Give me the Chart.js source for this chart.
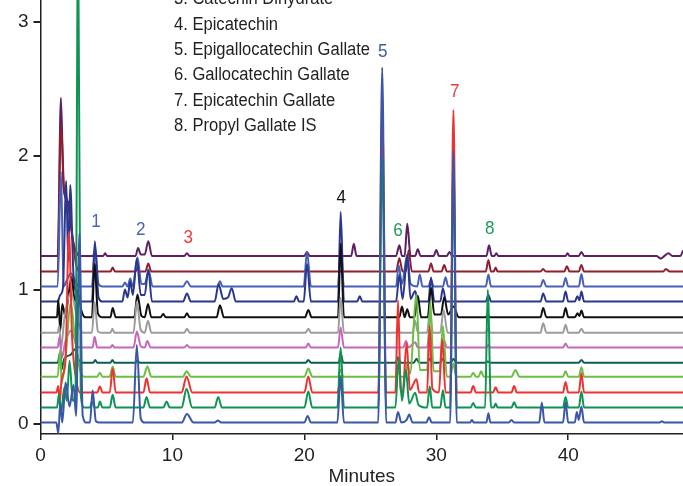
<!DOCTYPE html>
<html>
<head>
<meta charset="utf-8">
<script src="https://cdn.jsdelivr.net/npm/chart.js@4/dist/chart.umd.min.js"></script>
<style>
  html, body { margin: 0; padding: 0; background: #fff; }
  canvas { display: block; }
</style>
</head>
<body>
<canvas id="chrom" width="683" height="486"></canvas>
<script>
// Stacked chromatograms: each trace is [minutes, signal above its own baseline]
const trace1 = [[0,0],[1.2,0],[1.35,-0.08],[1.5,0.15],[1.65,0],[1.9,0.3],[2.2,0.12],[2.5,0.28],[2.7,0.05],[2.95,1.41],[3.2,0.05],[3.5,0],[3.75,0],[3.95,0.24],[4.2,0.01],[4.5,0],[7.0,0],[7.3,0.58],[7.6,0.03],[7.9,0],[10.7,0],[11.1,0.065],[11.6,0],[13.2,0],[13.45,0.015],[13.7,0],[20.0,0],[20.25,0.05],[20.5,0],[22.5,0],[22.75,0.35],[23.0,0],[25.6,0],[25.9,2.65],[26.2,0],[26.9,0],[27.1,0.08],[27.35,0],[27.75,0.02],[27.95,0.06],[28.2,0],[29.25,0],[29.45,0.04],[29.65,0],[31.05,0],[31.3,2.03],[31.55,0],[32.55,0],[32.7,0.02],[32.85,0],[33.8,0],[33.95,0.07],[34.1,0],[35.5,0],[35.7,0.02],[35.9,0],[37.8,0],[38.0,0.15],[38.2,0],[39.6,0],[39.8,0.15],[40.0,0],[40.5,0],[40.65,0.08],[40.8,0.02],[41.0,0.12],[41.2,0],[46.9,0],[47.1,0.01],[47.3,0],[48.7,0]];
const trace2 = [[0,0],[1.25,0],[1.4,0.1],[1.55,-0.05],[1.8,0.15],[2.0,0.05],[2.2,0.35],[2.45,0.05],[2.65,0.1],[2.85,3.6],[3.05,0.1],[3.3,0],[3.75,0],[3.9,0.045],[4.1,0],[4.35,0],[4.5,0.045],[4.7,0],[5.25,0],[5.47,0.095],[5.7,0],[7.8,0],[8.04,0.08],[8.3,0],[9.3,0],[9.56,0.045],[9.8,0],[10.7,0],[11.07,0.14],[11.5,0],[13.2,0],[13.47,0.08],[13.75,0],[20.0,0],[20.3,0.12],[20.6,0],[22.5,0],[22.75,0.45],[23.0,0],[25.6,0],[25.9,1.86],[26.2,0],[26.9,0],[27.15,0.37],[27.4,0.05],[27.7,0.28],[27.95,0.03],[28.4,0.11],[28.65,0.02],[29.3,0],[29.5,0.16],[29.7,0],[30.3,0],[30.5,0.13],[30.7,0],[31.05,0],[31.3,1.80],[31.55,0],[32.6,0],[32.8,0.035],[33.0,0],[33.7,0],[33.9,0.88],[34.15,0],[34.35,0],[34.5,0.03],[34.65,0],[35.7,0],[35.9,0.04],[36.1,0],[39.6,0],[39.8,0.08],[40.0,0],[40.8,0],[41.0,0.12],[41.2,0],[48.7,0]];
const trace3 = [[0,0],[1.2,0],[1.35,0.05],[1.45,-0.08],[1.6,0.1],[1.9,0.25],[2.15,1.2],[2.4,0.4],[2.7,0.1],[3.0,0],[4.3,0],[4.5,0.045],[4.7,0],[5.25,0],[5.47,0.18],[5.7,0],[7.8,0],[8.04,0.107],[8.3,0],[10.7,0],[11.07,0.12],[11.5,0],[20.0,0],[20.3,0.12],[20.6,0],[22.5,0],[22.7,0.06],[22.9,0],[25.6,0],[25.9,2.12],[26.2,0],[26.9,0],[27.1,0.69],[27.3,0.02],[27.45,0],[27.75,0.37],[28.0,0.02],[28.5,0.1],[28.7,0],[29.3,0],[29.5,0.5],[29.7,0.03],[30.2,0],[30.45,0.4],[30.7,0],[31.05,0],[31.3,2.11],[31.55,0],[32.6,0],[32.8,0.05],[33.0,0],[34.3,0],[34.5,0.04],[34.7,0],[35.7,0],[35.9,0.05],[36.1,0],[39.6,0],[39.8,0.08],[40.0,0],[40.8,0],[41.0,0.145],[41.2,0],[48.7,0]];
const trace4 = [[0,0],[1.3,0],[1.5,0.2],[1.6,-0.05],[1.9,0.15],[2.3,0.55],[2.6,0.3],[3.0,0.05],[3.3,0],[4.3,0],[4.5,0.03],[4.7,0],[5.25,0],[5.47,0.075],[5.7,0],[7.8,0],[8.1,0.075],[8.4,0],[10.8,0],[11.07,0.04],[11.4,0],[20.0,0],[20.3,0.06],[20.6,0],[22.55,0],[22.75,0.05],[22.95,0],[26.9,0],[27.1,0.04],[27.3,0],[27.6,0],[27.8,0.1],[28.0,0.02],[28.5,0.61],[28.75,0.05],[29.3,0.05],[29.55,0.56],[29.8,0.04],[30.25,0.04],[30.5,0.38],[30.8,0],[31.05,0],[31.3,0.1],[31.5,0],[32.6,0],[32.8,0.03],[33.0,0],[33.2,0],[33.4,0.04],[33.6,0],[35.7,0],[36.0,0.05],[36.3,0],[39.6,0],[39.8,0.04],[40.0,0],[40.8,0],[41.0,0.07],[41.2,0],[48.7,0]];
const trace5 = [[0,0],[1.3,0],[1.5,0.08],[1.6,-0.05],[1.8,0.03],[2.3,0.06],[2.6,0.1],[2.9,0.02],[3.2,0],[4.0,0],[4.15,0.02],[4.3,0],[5.3,0],[5.45,0.02],[5.6,0],[7.2,0],[7.35,0.02],[7.5,0],[20.1,0],[20.3,0.02],[20.5,0],[22.6,0],[22.75,0.07],[22.95,0],[26.9,0],[27.1,0.04],[27.3,0],[28.3,0],[28.5,0.03],[28.7,0],[29.3,0],[29.5,0.03],[29.7,0],[30.3,0],[30.5,0.03],[30.7,0],[31.1,0],[31.3,0.03],[31.5,0],[33.75,0],[33.9,0.01],[34.1,0],[40.8,0],[41.0,0.02],[41.2,0],[48.7,0]];
const trace6 = [[0,0],[1.3,0],[1.45,0.08],[1.6,-0.08],[1.9,0.05],[2.35,0.13],[2.7,0.02],[3.0,0],[3.95,0],[4.1,0.08],[4.3,0],[5.3,0],[5.45,0.02],[5.6,0],[7.05,0],[7.3,0.12],[7.6,0.01],[7.9,0],[8.1,0.05],[8.35,0],[10.9,0],[11.1,0.02],[11.3,0],[20.1,0],[20.3,0.03],[20.5,0],[22.55,0],[22.75,0.15],[23.0,0],[27.5,0],[27.7,0.05],[27.9,0],[28.4,0.04],[28.6,0],[29.3,0],[29.5,0.13],[29.7,0],[30.4,0],[30.6,0.05],[30.8,0],[33.8,0],[33.95,0.02],[34.1,0],[39.6,0],[39.8,0.03],[40.0,0],[48.7,0]];
const trace7 = [[0,0],[1.3,0],[1.42,0.05],[1.55,-0.12],[1.8,0.1],[2.3,0.3],[2.8,0.1],[3.2,0],[3.9,0],[4.1,0.23],[4.35,0.01],[4.6,0],[5.3,0],[5.45,0.03],[5.6,0],[7.05,0],[7.3,0.23],[7.6,0.02],[7.9,0],[8.15,0.09],[8.4,0],[10.9,0],[11.1,0.03],[11.3,0],[20.1,0],[20.3,0.03],[20.5,0],[22.55,0],[22.75,0.26],[23.0,0],[26.9,0],[27.1,0.02],[27.3,0],[28.2,0],[28.4,0.09],[28.6,0],[29.3,0],[29.5,0.14],[29.75,0],[30.3,0],[30.55,0.17],[30.85,0],[33.75,0],[33.9,0.03],[34.1,0],[37.9,0],[38.1,0.07],[38.35,0],[39.6,0],[39.8,0.06],[40.0,0],[40.8,0],[41.0,0.03],[41.2,0],[48.7,0]];
const trace8 = [[0,0],[1.25,0],[1.35,0.13],[1.5,-0.1],[1.65,0.1],[1.9,0],[2.1,0.15],[2.36,0.3],[2.6,0.12],[2.8,0.2],[3.1,0.05],[3.4,0],[3.9,0],[4.1,0.40],[4.35,0.03],[4.7,0],[5.3,0],[5.47,0.07],[5.7,0],[7.1,0],[7.35,0.17],[7.65,0.01],[7.9,0],[8.15,0.1],[8.4,0],[9.1,0],[9.3,0.025],[9.5,0],[10.9,0],[11.1,0.03],[11.3,0],[13.35,0],[13.6,0.09],[13.9,0],[20.05,0],[20.3,0.055],[20.55,0],[22.55,0],[22.75,0.55],[23.0,0],[27.2,0],[27.4,0.08],[27.6,0],[27.8,0.06],[28.0,0],[28.35,0],[28.6,0.16],[28.85,0],[29.35,0],[29.6,0.22],[29.85,0.02],[30.35,0.02],[30.6,0.15],[30.9,0.02],[31.3,0.08],[31.7,0],[33.75,0],[33.9,0.02],[34.05,0],[37.9,0],[38.1,0.07],[38.35,0],[39.6,0],[39.8,0.07],[40.0,0],[40.5,0],[40.7,0.03],[40.85,0.01],[41.0,0.05],[41.2,0],[48.7,0]];
const trace9 = [[0,0],[1.3,0],[1.5,0.05],[1.7,0.1],[1.95,0.9],[2.1,0.3],[2.25,0.87],[2.5,0.2],[2.8,0.05],[3.1,0],[3.9,0],[4.12,0.45],[4.4,0.03],[4.7,0],[6.2,0],[6.4,0.09],[6.6,0.03],[6.8,0.15],[7.0,0.05],[7.3,0.32],[7.6,0.05],[7.9,0.05],[8.17,0.24],[8.45,0],[10.8,0],[11.1,0.06],[11.4,0],[13.2,0],[13.5,0.13],[13.85,0.02],[14.2,0.03],[14.5,0.1],[14.8,0],[19.2,0],[19.4,0.04],[19.6,0],[19.95,0],[20.2,0.28],[20.5,0],[22.55,0],[22.75,0.67],[23.0,0],[24.0,0],[24.2,0.04],[24.4,0],[26.95,0],[27.2,0.2],[27.45,0.02],[27.8,0.35],[28.05,0.02],[28.4,0.08],[28.6,0],[29.4,0],[29.6,0.18],[29.85,0],[30.3,0],[30.5,0.1],[30.75,0],[33.75,0],[33.95,0.05],[34.15,0],[37.9,0],[38.1,0.06],[38.35,0],[39.6,0],[39.8,0.075],[40.0,0],[40.5,0],[40.7,0.04],[40.85,0.01],[41.0,0.075],[41.2,0],[48.7,0]];
const trace10 = [[0,0],[1.3,0],[1.55,0.86],[1.75,0],[2.0,0.05],[2.3,0.1],[2.6,0.05],[2.9,0],[3.9,0],[4.12,0.3],[4.4,0.02],[4.7,0],[6.2,0],[6.4,0.03],[6.6,0],[6.8,0.06],[7.0,0],[7.35,0.22],[7.65,0.02],[7.9,0.02],[8.2,0.12],[8.5,0],[10.8,0],[11.1,0.04],[11.4,0],[13.4,0],[13.6,0.04],[13.8,0],[19.95,0],[20.2,0.26],[20.5,0],[22.55,0],[22.75,0.3],[23.0,0],[26.95,0],[27.15,0.16],[27.4,0.02],[27.8,0.24],[28.05,0.02],[28.55,0],[28.75,0.09],[28.95,0],[29.4,0],[29.6,0.05],[29.8,0],[30.5,0],[30.7,0.07],[30.9,0],[33.75,0],[33.95,0.09],[34.15,0],[37.9,0],[38.1,0.05],[38.35,0],[39.6,0],[39.8,0.065],[40.0,0],[40.8,0],[41.0,0.095],[41.2,0],[48.7,0]];
const trace11 = [[0,0],[1.3,0],[1.55,1.1],[1.8,0.6],[2.0,0.54],[2.4,0.28],[2.7,0.05],[3.0,0],[3.95,0],[4.12,0.05],[4.3,0],[5.3,0],[5.47,0.03],[5.65,0],[7.2,0],[7.35,0.03],[7.5,0],[7.95,0],[8.17,0.06],[8.4,0],[20.0,0],[20.2,0.03],[20.4,0],[26.95,0],[27.2,0.1],[27.45,0],[27.7,0],[27.9,0.16],[28.15,0],[29.4,0],[29.6,0.06],[29.8,0],[30.4,0],[30.6,0.05],[30.8,0],[33.75,0],[33.95,0.087],[34.15,0],[34.35,0],[34.5,0.03],[34.65,0],[37.9,0],[38.1,0.02],[38.3,0],[39.7,0],[39.9,0.04],[40.1,0],[40.8,0],[41.0,0.05],[41.2,0],[47.2,0],[47.4,0.02],[47.7,0],[48.7,0]];
const trace12 = [[0,0],[1.3,0],[1.55,1.18],[1.75,0.5],[2.1,0.4],[2.4,0.15],[2.7,0.03],[3.0,0],[3.95,0],[4.12,0.02],[4.3,0],[4.75,0],[4.9,0.02],[5.05,0],[7.2,0],[7.4,0.06],[7.6,0.01],[7.9,0.01],[8.17,0.11],[8.45,0],[10.9,0],[11.1,0.02],[11.3,0],[20.0,0],[20.2,0.03],[20.4,0],[23.55,0],[23.75,0.09],[23.95,0],[26.95,0],[27.2,0.08],[27.4,0],[27.6,0],[27.8,0.24],[28.05,0],[28.4,0],[28.6,0.05],[28.8,0],[29.8,0],[30.0,0.045],[30.2,0],[30.8,0],[31.0,0.03],[31.2,0],[33.8,0],[34.0,0.08],[34.2,0],[34.4,0],[34.55,0.02],[34.7,0],[39.8,0],[39.95,0.02],[40.1,0],[40.8,0],[41.0,0.03],[41.2,0],[46.7,0],[47.0,-0.02],[47.3,0],[47.6,0.02],[47.9,0],[48.5,0],[48.7,0.04]];

// Vertical offset of each trace (bottom to top)
const baselineOffsets = [0.01, 0.122, 0.234, 0.353, 0.457, 0.57, 0.681, 0.796, 0.913, 1.025, 1.137, 1.254];

// Axis ticks
const xTickValues = [0, 10, 20, 30, 40];
const yTickValues = [0, 1, 2, 3];

// Peak identification numbers: retention time and label height
const peakNumbers = ['1', '2', '3', '4', '5', '6', '7', '8'];
const peakTimes = [4.2, 7.6, 11.2, 22.8, 25.95, 27.1, 31.4, 34.05];
const peakLabelLevels = [1.51, 1.45, 1.39, 1.69, 2.78, 1.44, 2.48, 1.46];

// Compound key
const compoundNames = [
  '3. Catechin Dihydrate',
  '4. Epicatechin',
  '5. Epigallocatechin Gallate',
  '6. Gallocatechin Gallate',
  '7. Epicatechin Gallate',
  '8. Propyl Gallate IS'
];

const traces = [trace1, trace2, trace3, trace4, trace5, trace6, trace7, trace8, trace9, trace10, trace11, trace12];
const traceColors = ['#3b56a8', '#0f9353', '#ee3131', '#6cbf45', '#0d5d55', '#c468b9',
                     '#9c9c9c', '#111111', '#2b378f', '#4661b5', '#8e1f2f', '#5b1f62'];
const peakColors = ['#4a64b3', '#4a64b3', '#ee3a3d', '#111111', '#3f5f9e', '#1f9a5c', '#ee3a3d', '#1f9a5c'];

const FONT = "'Liberation Sans', Arial, sans-serif";
const INK = '#231f20';

const datasets = traces.map((pts, i) => ({
  data: pts.map(p => ({ x: p[0], y: p[1] + baselineOffsets[i] })),
  borderColor: traceColors[i],
  borderWidth: 2,
  pointRadius: 0,
  fill: false,
  cubicInterpolationMode: 'monotone'
}));

// Narrow text helper (horizontally condensed)
function narrowText(ctx, text, x, y, squeeze) {
  ctx.save();
  ctx.translate(x, y);
  ctx.scale(squeeze, 1);
  ctx.fillText(text, 0, 0);
  ctx.restore();
}

const annotationText = {
  id: 'annotationText',
  afterDatasetsDraw(chart) {
    const ctx = chart.ctx;
    const xs = chart.scales.x, ys = chart.scales.y;
    ctx.save();
    ctx.font = '19px ' + FONT;
    ctx.textAlign = 'center';
    ctx.textBaseline = 'middle';
    peakNumbers.forEach((n, i) => {
      ctx.fillStyle = peakColors[i];
      narrowText(ctx, n, xs.getPixelForValue(peakTimes[i]), ys.getPixelForValue(peakLabelLevels[i]), 0.9);
    });
    ctx.font = '18px ' + FONT;
    ctx.textAlign = 'left';
    ctx.fillStyle = INK;
    compoundNames.forEach((name, i) => {
      narrowText(ctx, name, 174, -0.5 + i * 25.3, 0.92);
    });
    ctx.restore();
  }
};

function pinAxis(size, key) {
  return s => {
    s[key] = size;
    s.paddingTop = 0; s.paddingBottom = 0; s.paddingLeft = 0; s.paddingRight = 0;
  };
}

new Chart(document.getElementById('chrom'), {
  type: 'line',
  data: { datasets },
  options: {
    responsive: false,
    animation: false,
    devicePixelRatio: 1,
    layout: { padding: 0 },
    plugins: { legend: { display: false }, tooltip: { enabled: false } },
    scales: {
      x: {
        type: 'linear',
        min: 0,
        max: 48.7,
        afterBuildTicks: s => { s.ticks = xTickValues.map(v => ({ value: v })); },
        afterFit: pinAxis(52, 'height'),
        ticks: { font: { family: FONT, size: 19 }, color: INK, padding: 4, maxRotation: 0 },
        grid: { drawOnChartArea: false, drawTicks: true, tickLength: 6, color: INK, lineWidth: 1.5 },
        border: { color: INK, width: 1.5 },
        title: { display: true, text: 'Minutes', color: INK, padding: 0, font: { family: FONT, size: 19, lineHeight: 1 } }
      },
      y: {
        type: 'linear',
        min: -0.075,
        max: 3.164,
        afterBuildTicks: s => { s.ticks = yTickValues.map(v => ({ value: v })); },
        afterFit: pinAxis(40.5, 'width'),
        ticks: { font: { family: FONT, size: 19 }, color: INK, padding: 5 },
        grid: { drawOnChartArea: false, drawTicks: true, tickLength: 7, color: INK, lineWidth: 2 },
        border: { color: INK, width: 1.5 }
      }
    }
  },
  plugins: [annotationText]
});
</script>
</body>
</html>
